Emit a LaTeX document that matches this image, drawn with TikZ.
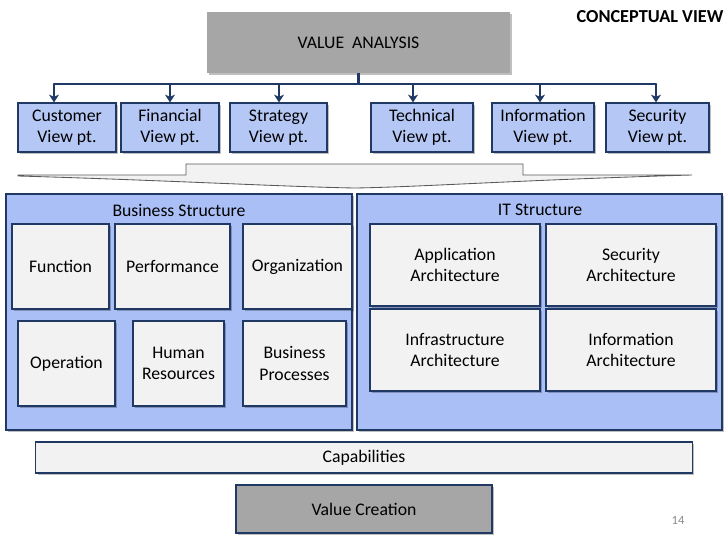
\documentclass[tikz,border=0pt]{standalone}
\usepackage{fontspec}
\setmainfont{Carlito}
\usepackage{xcolor}
\usepackage{tikz}
\usetikzlibrary{shapes.geometric, arrows.meta, positioning, calc, shadows}
\definecolor{navy}{RGB}{31,56,100}
\definecolor{viewblue}{RGB}{181,199,245}
\definecolor{panelblue}{RGB}{170,191,245}
\definecolor{boxgray}{RGB}{242,242,242}
\definecolor{topgray}{RGB}{166,166,166}
\newcommand{\slidefont}{\fontsize{12.6}{15}\selectfont}
\tikzstyle{shadowed} = [drop shadow={shadow xshift=1.2pt, shadow yshift=-1.2pt, fill=black, opacity=0.25}]
\tikzstyle{topbox} = [rectangle, minimum width=7.575cm, minimum height=1.525cm, text centered, fill=topgray, shadowed, font=\slidefont]
\tikzstyle{viewbox} = [rectangle, minimum height=1.225cm, inner sep=0pt, align=center, draw=navy, line width=0.8pt, fill=viewblue, shadowed, font=\slidefont]
\tikzstyle{panel} = [rectangle, minimum height=5.9cm, draw=navy, line width=0.8pt, fill=panelblue, shadowed]
\tikzstyle{part} = [rectangle, inner sep=0pt, align=center, draw=navy, line width=1.2pt, fill=boxgray, shadowed, font=\slidefont]
\tikzstyle{title} = [font=\slidefont]
\tikzstyle{arrow} = [line width=1.8pt, draw=navy, -{Stealth[length=5.5pt, width=7pt, inset=1.5pt]}]
\tikzstyle{bus} = [line width=1.8pt, draw=navy]

\begin{document}
\begin{tikzpicture}[x=0.025cm, y=-0.025cm]
\useasboundingbox (0,0) rectangle (728,546);

% top of the tree
\node (va) [topbox] at (358.5,42.5) {VALUE\ \ ANALYSIS};
\node (cv) [font=\fontsize{13}{16}\selectfont\bfseries] at (650,17) {CONCEPTUAL VIEW};

\node (cust) [viewbox, minimum width=2.45cm] at (67,127.5) {Customer\\View pt.};
\node (fin) [viewbox, minimum width=2.45cm] at (170,127.5) {Financial\\View pt.};
\node (strat) [viewbox, minimum width=2.425cm] at (278.5,127.5) {Strategy\\View pt.};
\node (tech) [viewbox, minimum width=2.55cm] at (422,127.5) {Technical\\View pt.};
\node (info) [viewbox, minimum width=2.55cm] at (543,127.5) {Information\\View pt.};
\node (sec) [viewbox, minimum width=2.575cm] at (657.5,127.5) {Security\\View pt.};

\coordinate (t1) at (54,84);
\coordinate (t2) at (170,84);
\coordinate (t3) at (279,84);
\coordinate (t4) at (413,84);
\coordinate (t5) at (540,84);
\coordinate (t6) at (656,84);

\draw [bus] (va.south) -- (va.south |- t1);
\draw [bus, line cap=round] (t1) -- (t6);
\draw [arrow] (t1) -- (t1 |- cust.north);
\draw [arrow] (t2) -- (t2 |- fin.north);
\draw [arrow] (t3) -- (t3 |- strat.north);
\draw [arrow] (t4) -- (t4 |- tech.north);
\draw [arrow] (t5) -- (t5 |- info.north);
\draw [arrow] (t6) -- (t6 |- sec.north);

% flat block arrow
\draw [fill=boxgray, draw=black!65, line width=0.6pt] (18,175) -- (186,175) -- (186,164) -- (523,164) -- (523,175) -- (692,175)
  .. controls (520,180) and (420,187) .. (355,188) .. controls (290,187) and (160,180) .. (18,176) -- cycle;

% business side
\node (bs) [panel, minimum width=8.65cm] at (179,312) {};
\node (bst) [title] at (179,210) {Business Structure};
\node (func) [part, minimum width=2.425cm, minimum height=2.125cm] at (60.5,266.5) {Function};
\node (perf) [part, minimum width=2.875cm, minimum height=2.125cm] at (172.5,266.5) {Performance};
\node (org) [part, minimum width=2.725cm, minimum height=2.125cm] at (297.5,266.5) {Organization};
\node (oper) [part, minimum width=2.425cm, minimum height=2.125cm] at (66.5,363.5) {Operation};
\node (hr) [part, minimum width=2.275cm, minimum height=2.125cm] at (178.5,363.5) {Human\\Resources};
\node (bp) [part, minimum width=2.575cm, minimum height=2.125cm] at (294.5,363.5) {Business\\Processes};

% IT side
\node (its) [panel, minimum width=9.125cm] at (539.5,312) {};
\node (itst) [title] at (540,210) {IT Structure};
\node (app) [part, minimum width=4.25cm, minimum height=2.05cm] at (455,265) {Application\\Architecture};
\node (secarch) [part, minimum width=4.25cm, minimum height=2.05cm] at (631,265) {Security\\Architecture};
\node (infra) [part, minimum width=4.25cm, minimum height=2.05cm] at (455,350) {Infrastructure\\Architecture};
\node (infoarch) [part, minimum width=4.25cm, minimum height=2.05cm] at (631,350) {Information\\Architecture};

% bottom
\node (cap) [part, line width=0.8pt, minimum width=16.4cm, minimum height=0.775cm] at (364,457.5) {Capabilities};
\node (vc) [part, line width=0.8pt, fill=topgray, minimum width=6.4cm, minimum height=1.2cm] at (364,509) {Value Creation};
\node (pg) [font=\fontsize{9}{11}\selectfont, text=black!45] at (678,520) {14};

\end{tikzpicture}
\end{document}
